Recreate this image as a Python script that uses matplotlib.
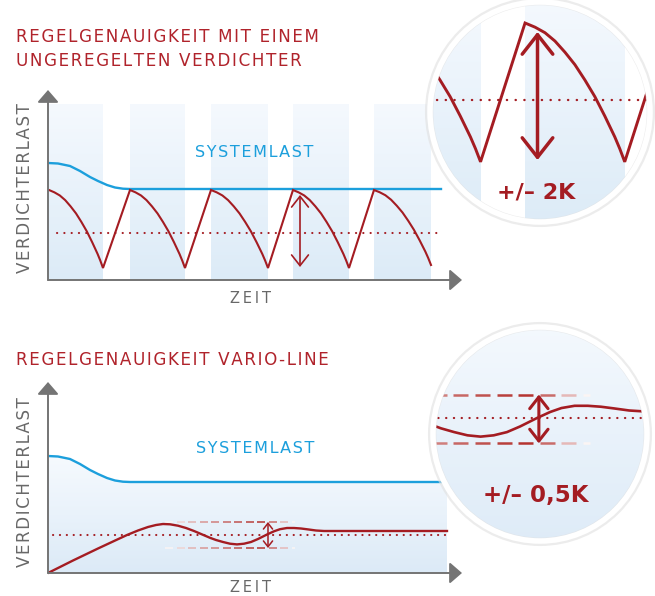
import numpy as np
import matplotlib.pyplot as plt
from matplotlib.patches import Circle, Polygon
from matplotlib.colors import LinearSegmentedColormap, to_rgb
from matplotlib.collections import LineCollection

W, H = 655, 596

# --- Daten (Zeit / Verdichterlast, schematische Einheiten) ---
sys_time = [0, 10, 22, 32, 42, 50, 59, 67, 75, 82, 393]
sys_load = [117, 116.5, 114, 109, 103, 99, 95, 92.5, 91.3, 91, 91]

# ungeregelter Verdichter: Saegezahn
peak_time = [1, 82, 163, 245, 326]
trough_time = [55, 137, 220, 301, 383]
peak_load = [90, 90, 90, 90, 90]
trough_load = [12, 12, 12, 12, 15]
arc_frac = [0, .05, .1, .15, .2, .25, .3, .35, .4, .45, .5,
            .55, .6, .65, .7, .75, .8, .85, .9, .95, 1]
arc_drop = [0, .015, .03, .05, .07, .10, .13, .17, .21, .255, .30,
            .355, .41, .47, .53, .60, .67, .745, .82, .905, 1]
setpoint_top = 47
swing_top = [85, 13]
swing_time_top = 252

# Vario-Line
vario_time = [0, 25, 50, 65, 79, 90, 100, 108, 115, 122, 130, 138, 146, 154, 162, 168,
              175, 182, 189, 196, 203, 210, 219, 226, 232, 239, 246, 253, 260, 268, 276, 399]
vario_load = [0, 12.5, 24.5, 31.5, 38, 42.5, 46, 48, 49, 48.7, 47.3, 45, 42, 38.6, 35.2, 33,
              31, 29.3, 28.6, 29.3, 31, 34, 38.5, 41.7, 43.8, 45, 45, 44.5, 43.6, 42.5, 42, 42]
setpoint_bot = 38.5
band_bot = [51, 25]
band_time = [117, 247]
swing_time_bot = 220

red = '#a41c22'
title_red = '#b0232b'
blue = '#1c9fdc'
gray = '#747474'
text_gray = '#686868'

grad = np.linspace(0, 1, 256).reshape(-1, 1)
stripe_cmap = LinearSegmentedColormap.from_list('stripe', ['#dcebf7', '#f5f9fe'])

fig = plt.figure(figsize=(W / 100, H / 100), dpi=100)


def px_axes(left, top, right, bottom):
    ax = fig.add_axes([left / W, 1 - bottom / H, (right - left) / W, (bottom - top) / H])
    ax.set_axis_off()
    return ax


def spaced(s, sep='\u200a'):
    return sep.join(s)


def stripes(ax, ylo, yhi):
    for p, t in zip(peak_time, trough_time):
        ax.imshow(grad, extent=(p, t, ylo, yhi), origin='lower', cmap=stripe_cmap,
                  aspect='auto', interpolation='bilinear', zorder=0)


def axis_arrows(ax, xend, yend):
    for xy in [(xend, 0), (0, yend)]:
        ax.annotate('', xy=xy, xytext=(0, 0), annotation_clip=False,
                    arrowprops=dict(arrowstyle='-|>,head_length=0.75,head_width=0.65',
                                    mutation_scale=10, color=gray, lw=1.4,
                                    shrinkA=0, shrinkB=0))


def swing_arrow(ax, t, ends, lw, scale):
    ax.annotate('', xy=(t, ends[1]), xytext=(t, ends[0]),
                arrowprops=dict(arrowstyle='<->,head_length=0.7,head_width=0.55',
                                mutation_scale=scale, color=red, lw=lw,
                                shrinkA=0, shrinkB=0))


def dotted(ax, t0, t1, y, lw, gap):
    ax.plot([t0, t1], [y, y], color=red, lw=lw, linestyle=(0, (0.1, gap)),
            dash_capstyle='round')


def band_lines(ax, lw):
    dark = np.array(to_rgb('#b3302c'))
    white = np.ones(3)
    for y in band_bot:
        segs, cols = [], []
        t = band_time[0]
        while t < band_time[1]:
            segs.append([(t, y), (min(t + 8, band_time[1]), y)])
            w = np.interp(t + 4, [117, 150, 185, 212, 222, 232, 247],
                          [0.0, 0.45, 0.8, 1.0, 0.8, 0.45, 0.05])
            cols.append(white * (1 - w) + dark * w)
            t += 11.5
        ax.add_collection(LineCollection(segs, colors=cols, linewidths=lw))


def zoom_circle(cx, cy, r, center, scale):
    ax = px_axes(cx - r, cy - r, cx + r, cy + r)
    rd = r / scale
    ax.set_xlim(center[0] - rd, center[0] + rd)
    ax.set_ylim(center[1] - rd, center[1] + rd)
    return ax


def finish_circle(ax):
    clip = Circle((0.5, 0.5), 0.5, transform=ax.transAxes)
    for art in ax.images + ax.lines + ax.collections + ax.patches + ax.texts:
        art.set_clip_path(clip)
    for child in ax.get_children():
        if hasattr(child, 'arrow_patch') and child.arrow_patch is not None:
            child.arrow_patch.set_clip_path(clip)
    ax.add_patch(Circle((0.5, 0.5), 0.504, transform=ax.transAxes, fill=False,
                        edgecolor='#e0e0e0', lw=6.0, alpha=0.6, clip_on=False, zorder=20))
    ax.add_patch(Circle((0.5, 0.5), 0.5, transform=ax.transAxes, fill=False,
                        edgecolor='white', lw=4.0, clip_on=False, zorder=21))


# Saegezahn aus Spitzen, Taelern und Bogenprofil
saw_t, saw_y = [], []
for p, t, pl, tl in zip(peak_time, trough_time, peak_load, trough_load):
    for f, d in zip(arc_frac, arc_drop):
        saw_t.append(p + f * (t - p))
        saw_y.append(pl - d * (pl - tl))

# ---------------- oberes Diagramm ----------------
ax1 = px_axes(48, 85, 470, 285)
stripes(ax1, 0, 176)
ax1.plot(sys_time, sys_load, color=blue, lw=1.7)
ax1.plot(saw_t, saw_y, color=red, lw=1.5, solid_joinstyle='miter')
dotted(ax1, 9, 394, setpoint_top, 1.5, 3.4)
swing_arrow(ax1, swing_time_top, swing_top, 1.2, 11)
axis_arrows(ax1, 414, 190)
ax1.set_xlim(0, 422)
ax1.set_ylim(-5, 195)
ax1.text(206, 123, spaced('SYSTEMLAST'), color=blue, fontsize=11.5, ha='center', va='baseline')
ax1.text(203, -23, spaced('ZEIT', '\u2009'), color=text_gray, fontsize=10.5, ha='center', va='baseline')
ax1.text(-23, 92, spaced('VERDICHTERLAST'), color=text_gray, fontsize=12, rotation=90,
         ha='center', va='center')

fig.text(16 / W, 1 - 42 / H, spaced('REGELGENAUIGKEIT MIT EINEM'), color=title_red,
         fontsize=12.1, ha='left', va='baseline')
fig.text(16 / W, 1 - 66 / H, spaced('UNGEREGELTEN VERDICHTER'), color=title_red,
         fontsize=12.1, ha='left', va='baseline')

# Lupe oben
cx1 = zoom_circle(540, 112, 110, (253.4, 40), 1.78)
stripes(cx1, -25, 105)
cx1.plot(saw_t, saw_y, color=red, lw=2.1, solid_joinstyle='miter')
dotted(cx1, 9, 394, setpoint_top, 1.7, 3.6)
swing_arrow(cx1, swing_time_top, swing_top, 2.5, 20)
cx1.text(0.482, 0.109, '+/– 2K', transform=cx1.transAxes, color=red, fontsize=16,
         fontweight='bold', ha='center', va='baseline')
cx1.set_xlim(191.6, 315.2)
cx1.set_ylim(-21.8, 101.8)
finish_circle(cx1)

# ---------------- unteres Diagramm ----------------
ax2 = px_axes(48, 375, 470, 580)
fill_cmap = LinearSegmentedColormap.from_list('fill', ['#dceaf7', '#f6fafe'])
im = ax2.imshow(grad, extent=(0, 399, 0, max(sys_load)), origin='lower', cmap=fill_cmap,
                aspect='auto', interpolation='bilinear', zorder=0)
under = Polygon(list(zip(sys_time, sys_load)) + [(399, sys_load[-1]), (399, 0), (0, 0)],
                closed=True, transform=ax2.transData, facecolor='none', edgecolor='none')
ax2.add_patch(under)
im.set_clip_path(under)
ax2.plot(sys_time, sys_load, color=blue, lw=1.7)
band_lines(ax2, 1.1)
dotted(ax2, 5, 399, setpoint_bot, 1.5, 3.2)
ax2.plot(vario_time, vario_load, color=red, lw=1.7)
swing_arrow(ax2, swing_time_bot, band_bot, 1.1, 6)
axis_arrows(ax2, 414, 191)
ax2.set_xlim(0, 422)
ax2.set_ylim(-7, 198)
ax2.text(207, 120, spaced('SYSTEMLAST'), color=blue, fontsize=11.5, ha='center', va='baseline')
ax2.text(203, -19.5, spaced('ZEIT', '\u2009'), color=text_gray, fontsize=10.5, ha='center', va='baseline')
ax2.text(-23, 91, spaced('VERDICHTERLAST'), color=text_gray, fontsize=12, rotation=90,
         ha='center', va='center')

fig.text(16 / W, 1 - 365 / H, spaced('REGELGENAUIGKEIT VARIO-LINE'), color=title_red,
         fontsize=12.1, ha='left', va='baseline')

# Lupe unten
cx2 = zoom_circle(540, 434, 107, (220.6, 30), 1.88)
cx2.imshow(grad, extent=(150, 300, -40, 100), origin='lower', cmap=fill_cmap,
           aspect='auto', interpolation='bilinear', zorder=0)
band_lines(cx2, 1.8)
dotted(cx2, 5, 399, setpoint_bot, 1.6, 3.4)
cx2.plot(vario_time, vario_load, color=red, lw=1.9)
swing_arrow(cx2, swing_time_bot, band_bot, 2.2, 12)
cx2.text(0.481, 0.182, '+/– 0,5K', transform=cx2.transAxes, color=red, fontsize=16.5,
         fontweight='bold', ha='center', va='baseline')
cx2.set_xlim(220.6 - 56.9, 220.6 + 56.9)
cx2.set_ylim(30 - 56.9, 30 + 56.9)
finish_circle(cx2)

fig.savefig('out.png', dpi=100)
